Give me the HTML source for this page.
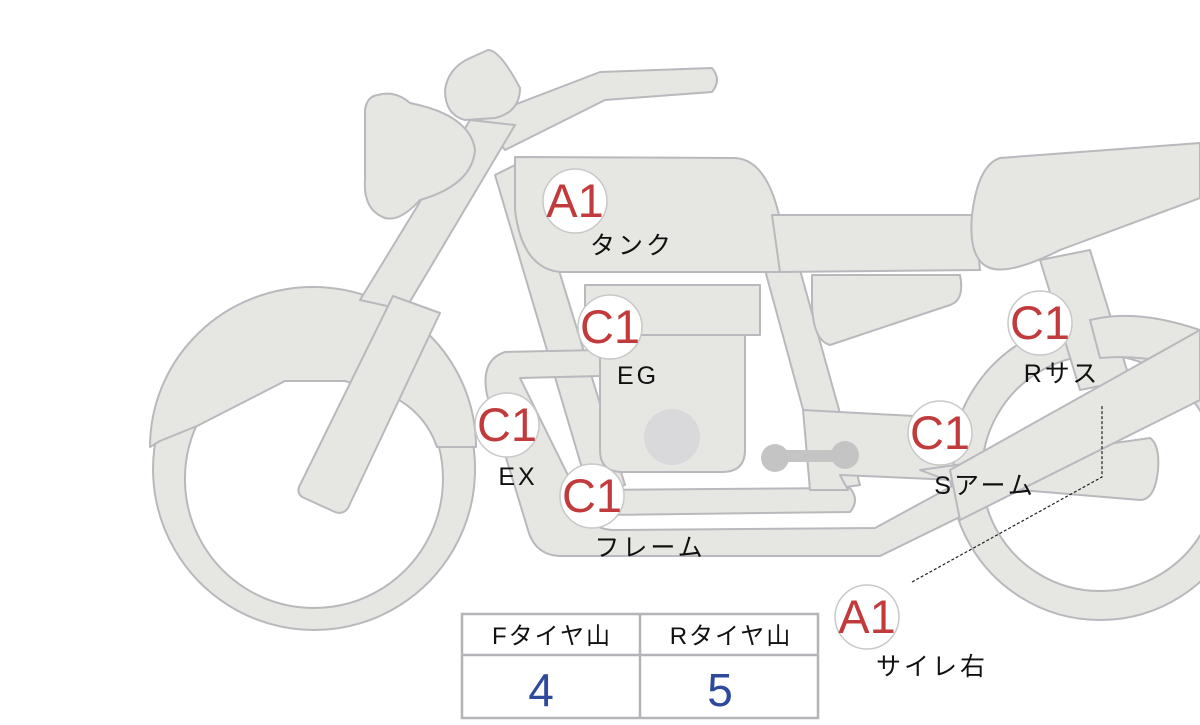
<!DOCTYPE html>
<html><head><meta charset="utf-8"><style>
body{margin:0;background:#fff;width:1200px;height:720px;overflow:hidden;font-family:"Liberation Sans","Noto Sans CJK JP",sans-serif}
</style></head><body>
<svg width="1200" height="720" viewBox="0 0 1200 720" xmlns="http://www.w3.org/2000/svg">
<g fill="#e6e6e3" stroke="#b9b9bd" stroke-width="2" stroke-linejoin="round">
<!-- rear wheel -->
<path fill-rule="evenodd" d="M1100,320 a150,150 0 1,0 0.1,0 Z M1100,355 a118,118 0 1,1 -0.1,0 Z"/>
<!-- front wheel -->
<path fill-rule="evenodd" d="M314,308 a161,161 0 1,0 0.1,0 Z M314,350 a129,129 0 1,1 -0.1,0 Z"/>
<!-- front fender -->
<path d="M150,447 A163,160 0 0,1 476,447 L437,447 Q425,412 390,395 L345,381 L285,381 L197,426 L160,441 Z"/>
<!-- rear fender/frame -->
<path d="M1040,260 L1090,250 L1130,380 L1080,390 Z"/>
<path d="M1090,320 C1130,310 1170,320 1200,330 L1200,370 C1170,360 1130,355 1100,358 Z"/>
<!-- handlebar -->
<path d="M480,118 L600,72 L712,68 Q722,80 712,92 L605,100 L505,150 Z"/>
<!-- fork upper -->
<path d="M470,120 L515,125 L405,310 L360,300 Z"/>
<!-- fork lower -->
<path d="M393,296 L440,313 L348,508 Q343,515 335,512 L302,497 Q296,492 300,485 Z"/>
<!-- bulb -->
<path d="M470,58 L488,50 Q500,50 520,88 Q520,112 495,118 L465,120 Q445,115 445,90 Q448,68 470,58 Z"/>
<!-- headlight -->
<path d="M378,95 Q395,90 410,103 Q470,115 475,150 Q472,185 420,200 Q400,222 385,218 Q363,210 365,180 L365,110 Q367,96 378,95 Z"/>
<!-- frame down tube -->
<path d="M495,175 L525,160 L625,485 L590,495 Z"/>
<!-- EX pipe -->
<path d="M505,352 L600,350 L600,376 L520,378 L590,520 Q598,530 615,530 L875,528 L1000,460 L1015,490 L880,556 L560,556 Q535,555 528,530 L487,395 Q480,360 505,352 Z"/>
<!-- frame lower rail -->
<path d="M590,490 L850,488 Q860,500 850,512 L600,515 Z"/>
<!-- rear frame -->
<path d="M765,270 L800,270 L860,485 L825,490 Z"/>
<!-- tank -->
<path d="M515,157 L735,158 Q770,160 782,230 L782,272 L560,272 Q522,268 515,210 Z"/>
<!-- seat -->
<path d="M772,215 L975,215 L980,270 L780,272 Z"/>
<!-- side cover -->
<path d="M812,275 L960,275 Q965,300 950,305 L830,345 Q812,340 812,300 Z"/>
<!-- rear cowl -->
<path d="M1000,158 L1200,143 L1200,198 L1060,250 Q1010,275 990,268 Q968,260 972,215 Q978,165 1000,158 Z"/>
<!-- engine -->
<path d="M600,330 L745,330 L745,450 Q745,472 722,472 L622,472 Q600,472 600,450 Z"/>
<rect x="585" y="285" width="175" height="50"/>
<!-- swingarm pivot plate -->
<path d="M803,410 L950,418 L955,480 L840,475 L848,490 L810,490 Z"/>
<path d="M920,470 L1150,438 Q1160,445 1158,470 Q1155,500 1140,500 L960,485 Z"/>
<!-- swingarm -->
<path d="M950,470 L1200,330 L1200,400 L960,520 Z"/>
</g>
<circle cx="672" cy="437" r="28" fill="#d9d9db"/>
<g fill="#c4c4c5"><circle cx="775" cy="458" r="14"/><circle cx="845" cy="455" r="14"/><rect x="775" y="450" width="70" height="12"/></g>
<!-- leader -->
<path d="M912,582 L1102,477 L1102,405" fill="none" stroke="#222" stroke-width="1.2" stroke-dasharray="3,2"/>
<!-- badges -->
<g fill="#fff" stroke="#c8c8c8" stroke-width="1.5">
<circle cx="575" cy="201" r="32"/><circle cx="610" cy="327" r="32"/><circle cx="1040" cy="323" r="32"/>
<circle cx="507" cy="425" r="32"/><circle cx="940" cy="433" r="32"/><circle cx="592" cy="496" r="32"/><circle cx="867" cy="617" r="32"/>
</g>
<g fill="#c23b3c" font-size="47" text-anchor="middle">
<text x="575" y="217">A1</text><text x="610" y="343">C1</text><text x="1040" y="339">C1</text>
<text x="507" y="441">C1</text><text x="940" y="449">C1</text><text x="592" y="512">C1</text><text x="867" y="633">A1</text>
</g>
<g fill="#111" font-size="25" text-anchor="middle" letter-spacing="3">
<text x="632" y="254">タンク</text><text x="638" y="384">EG</text><text x="1062" y="382">Rサス</text>
<text x="518" y="485">EX</text><text x="985" y="494">Sアーム</text><text x="650" y="556">フレーム</text><text x="932" y="675">サイレ右</text>
</g>
<!-- table -->
<g fill="none" stroke="#b4b4b8" stroke-width="2.5">
<rect x="462" y="614" width="356" height="104"/>
<line x1="462" y1="655" x2="818" y2="655"/><line x1="640" y1="614" x2="640" y2="718"/>
</g>
<g font-size="24" fill="#111" text-anchor="middle" letter-spacing="2"><text x="552" y="644">Fタイヤ山</text><text x="731" y="644">Rタイヤ山</text></g>
<g font-size="46" fill="#2e4a9c" text-anchor="middle"><text x="541" y="706">4</text><text x="720" y="706">5</text></g>
</svg>
</body></html>
